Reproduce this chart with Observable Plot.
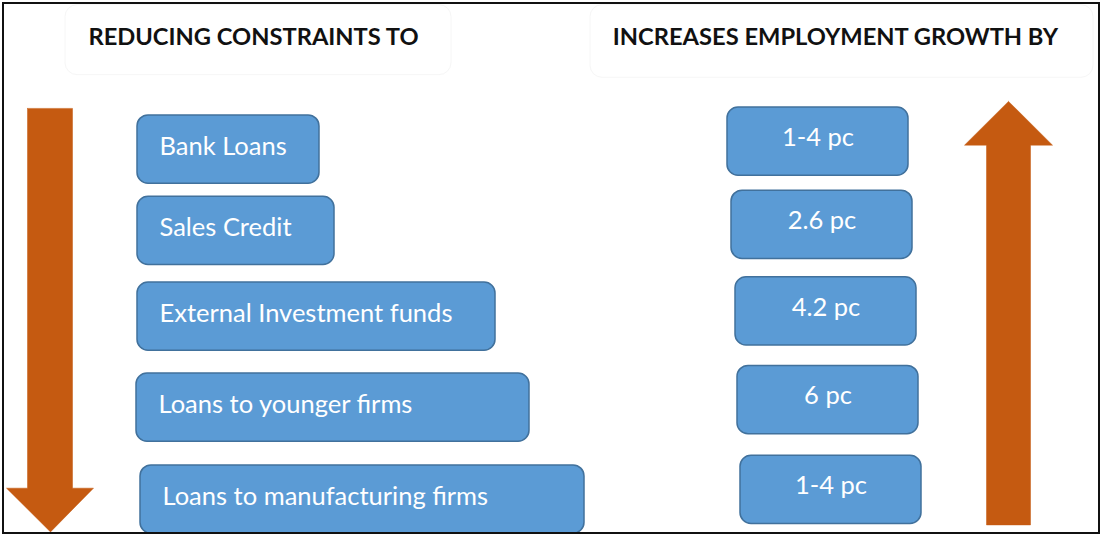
<!DOCTYPE html>
<html>
<head>
<meta charset="utf-8">
<script src="https://cdn.jsdelivr.net/npm/d3@7"></script>
<script src="https://cdn.jsdelivr.net/npm/@observablehq/plot@0.6"></script>
<style>
  html, body { margin: 0; padding: 0; background: #fff; }
  #chart { width: 1101px; height: 535px; }
  svg { display: block; }
</style>
</head>
<body>
<div id="chart"></div>
<script>
// ---- data ----
const constraints = ["Bank Loans", "Sales Credit", "External Investment funds", "Loans to younger firms", "Loans to manufacturing firms"];
const growth = ["1-4 pc", "2.6 pc", "4.2 pc", "6 pc", "1-4 pc"];
const headers = ["REDUCING CONSTRAINTS TO", "INCREASES EMPLOYMENT GROWTH BY"];

// ---- layout (not data) ----
const W = 1101, H = 535;
const leftX = [137, 137, 137, 136, 140];
const leftW = [182, 197, 358, 393, 444];
const rightX = [727, 731, 735, 737, 740];
const rightW = 181;
const rowOffsetL = [0, -0.07, -0.09, -0.05, 0];   // small row-position adjustments (row units)
const rowOffsetR = [-0.09, -0.14, -0.15, -0.137, -0.11];
const halfH = 0.39;
const headerX = [253, 835];
const headerY = -1.28;
const blue = "#5B9BD5", blueEdge = "#41719C", orange = "#C55A11";

const leftRows = constraints.map((label, i) => ({
  label, x1: leftX[i], x2: leftX[i] + leftW[i], y: i + rowOffsetL[i]
}));
const rightRows = growth.map((label, i) => ({
  label, x1: rightX[i], x2: rightX[i] + rightW, y: i + rowOffsetR[i]
}));
const headerRows = headers.map((t, i) => ({ t, x: headerX[i], y: headerY }));
const headerBoxes = [
  { x1: 65, x2: 451, y1: -1.65, y2: -0.85 },
  { x1: 590, x2: 1093, y1: -1.65, y2: -0.82 }
];

// arrows as polygons in (x, row) units
const downArrow = [
  [27, -0.47], [72, -0.47], [72, 3.87], [93, 3.87], [50, 4.37], [6, 3.87], [27, 3.87], [27, -0.47]
].map(([x, y]) => ({ x, y }));
const upArrow = [
  [1008, -0.55], [1052, -0.05], [1030, -0.05], [1030, 4.29], [986, 4.29], [986, -0.05], [964, -0.05], [1008, -0.55]
].map(([x, y]) => ({ x, y }));

const font = "Lato, 'Open Sans', sans-serif";

const chart = Plot.plot({
  width: W, height: H,
  margin: 0,
  style: { fontFamily: font, background: "#fff", overflow: "visible" },
  x: { domain: [0, W], range: [0, W], axis: null },
  y: { domain: [-1.703, 4.411], range: [0, H], axis: null },
  marks: [
    // faint header boxes
    Plot.rect(headerBoxes, { x1: "x1", x2: "x2", y1: "y1", y2: "y2", fill: "#fff", stroke: "#f6f6f6", rx: 12 }),
    Plot.text(headerRows, { x: "x", y: "y", text: "t", fontSize: 23.7, fontWeight: "bold", fill: "#111" }),
    // arrows
    Plot.line(downArrow, { x: "x", y: "y", fill: orange, stroke: orange, strokeWidth: 0.5, curve: "linear" }),
    Plot.line(upArrow, { x: "x", y: "y", fill: orange, stroke: orange, strokeWidth: 0.5, curve: "linear" }),
    // left boxes
    Plot.rect(leftRows, {
      x1: "x1", x2: "x2",
      y1: d => d.y - halfH, y2: d => d.y + halfH,
      fill: blue, stroke: blueEdge, strokeWidth: 1.5, rx: 11
    }),
    Plot.text(leftRows, {
      x: d => d.x1 + 22, y: "y", dy: -3, text: "label", textAnchor: "start",
      fill: "#fff", fontSize: 25.5
    }),
    // right boxes
    Plot.rect(rightRows, {
      x1: "x1", x2: "x2",
      y1: d => d.y - halfH, y2: d => d.y + halfH,
      fill: blue, stroke: blueEdge, strokeWidth: 1.5, rx: 11
    }),
    Plot.text(rightRows, {
      x: d => (d.x1 + d.x2) / 2, y: "y", dy: -4, text: "label",
      fill: "#fff", fontSize: 25.5
    }),
    // outer frame
    Plot.frame({ stroke: "#111", strokeWidth: 2, inset: 2.5 })
  ]
});
document.getElementById("chart").appendChild(chart);
</script>
</body>
</html>
